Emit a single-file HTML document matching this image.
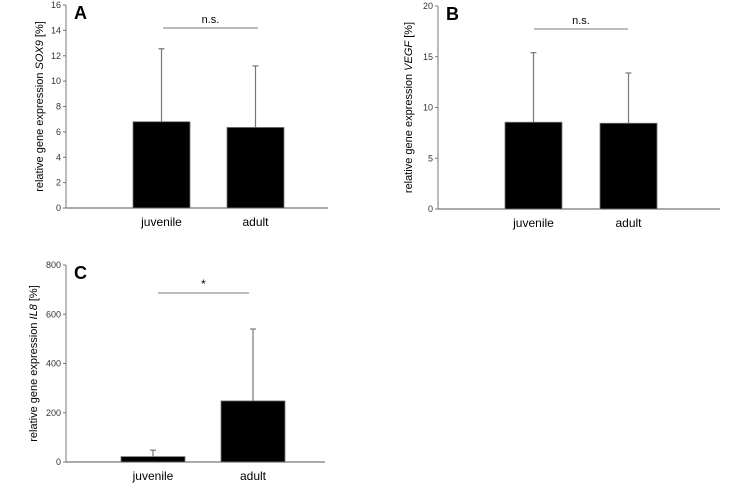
<!DOCTYPE html>
<html><head><meta charset="utf-8"><style>
body{margin:0;background:#fff;width:750px;height:484px;overflow:hidden}
svg{font-family:"Liberation Sans",Arial,sans-serif}
</style></head><body>
<svg id="c" width="750" height="484"></svg>
<script>
const categories = ["juvenile","adult"];
const sox9Means = [6.8, 6.35];
const sox9Errors = [12.55, 11.2];
const sox9Ticks = [0,2,4,6,8,10,12,14,16];
const vegfMeans = [8.55, 8.45];
const vegfErrors = [15.4, 13.4];
const vegfTicks = [0,5,10,15,20];
const il8Means = [22, 248];
const il8Errors = [48, 540];
const il8Ticks = [0,200,400,600,800];
const panelLetters = ["A","B","C"];
const sigLabels = ["n.s.","n.s.","*"];

const NS="http://www.w3.org/2000/svg";
const svg=document.getElementById('c');
function el(t,a,p){const e=document.createElementNS(NS,t);for(const k in a)e.setAttribute(k,a[k]);(p||svg).appendChild(e);return e;}

function panel(cfg){
  const g=el('g',{});
  
  
  const max=cfg.ticks[cfg.ticks.length-1];
  const y=v=>cfg.y0-(v/max)*(cfg.y0-cfg.yTop);
  // axes
  const ya=el('line',{x1:cfg.ax,y1:cfg.yTop,x2:cfg.ax,y2:cfg.y0,stroke:'#777','stroke-width':1},g);
  
  const xa=el('line',{x1:cfg.ax,y1:cfg.y0,x2:cfg.xEnd,y2:cfg.y0,stroke:'#777','stroke-width':1.2},g);
  
  cfg.ticks.forEach(t=>{
    el('line',{x1:cfg.ax-3,y1:y(t),x2:cfg.ax,y2:y(t),stroke:'#777'},g);
    const tx=el('text',{x:cfg.ax-5,y:y(t)+3,'font-size':9,'text-anchor':'end',fill:'#333'},g);
    tx.textContent=t;
    
  });
  cfg.means.forEach((m,i)=>{
    const bx=cfg.barX[i], w=cfg.barW;
    const cx=bx+w/2;
    const el1=el('line',{x1:cx,y1:y(cfg.errs[i]),x2:cx,y2:y(m),stroke:'#777','stroke-width':1.2},g);
    
    el('line',{x1:cx-3,y1:y(cfg.errs[i]),x2:cx+3,y2:y(cfg.errs[i]),stroke:'#777','stroke-width':1.2},g);
    const r=el('rect',{x:bx,y:y(m),width:w,height:cfg.y0-y(m),fill:'#000',stroke:'#777','stroke-width':0.8},g);
    
    const cl=el('text',{x:cx,y:cfg.y0+18,'font-size':12,'text-anchor':'middle',fill:'#000'},g);
    cl.textContent=categories[i];
    
  });
  const sl=el('line',{x1:cfg.sig[0],y1:cfg.sig[2],x2:cfg.sig[1],y2:cfg.sig[2],stroke:'#777'},g);
  
  const st=el('text',{x:(cfg.sig[0]+cfg.sig[1])/2,y:cfg.sig[2]-5,'font-size':cfg.sigLabel==='*'?12:11,'text-anchor':'middle'},g);
  st.textContent=cfg.sigLabel;
  
  const pl=el('text',{x:cfg.ax+8,y:cfg.yTop+14,'font-size':18,'font-weight':'bold'},g);
  pl.textContent=cfg.letter;
  
  const yc=(cfg.yTop+cfg.y0)/2;
  const yt=el('text',{x:0,y:0,'font-size':11,'text-anchor':'middle',transform:`translate(${cfg.titleX},${yc}) rotate(-90)`},g);
  
  yt.appendChild(document.createTextNode('relative gene expression '));
  const ts=el('tspan',{'font-style':'italic'},yt);ts.textContent=cfg.gene;
  yt.appendChild(document.createTextNode(' [%]'));
}
panel({name:'panel-a-sox9',letter:panelLetters[0],gene:'SOX9',means:sox9Means,errs:sox9Errors,ticks:sox9Ticks,
  ax:66,y0:208,yTop:5,xEnd:328,barX:[133,227],barW:57,sig:[163,258,28],sigLabel:sigLabels[0],titleX:43});
panel({name:'panel-b-vegf',letter:panelLetters[1],gene:'VEGF',means:vegfMeans,errs:vegfErrors,ticks:vegfTicks,
  ax:438,y0:209,yTop:6,xEnd:720,barX:[505,600],barW:57,sig:[534,628,29],sigLabel:sigLabels[1],titleX:412});
panel({name:'panel-c-il8',letter:panelLetters[2],gene:'IL8',means:il8Means,errs:il8Errors,ticks:il8Ticks,
  ax:66,y0:462,yTop:265,xEnd:325,barX:[121,221],barW:64,sig:[158,249,293],sigLabel:sigLabels[2],titleX:37});
</script>
</body></html>
